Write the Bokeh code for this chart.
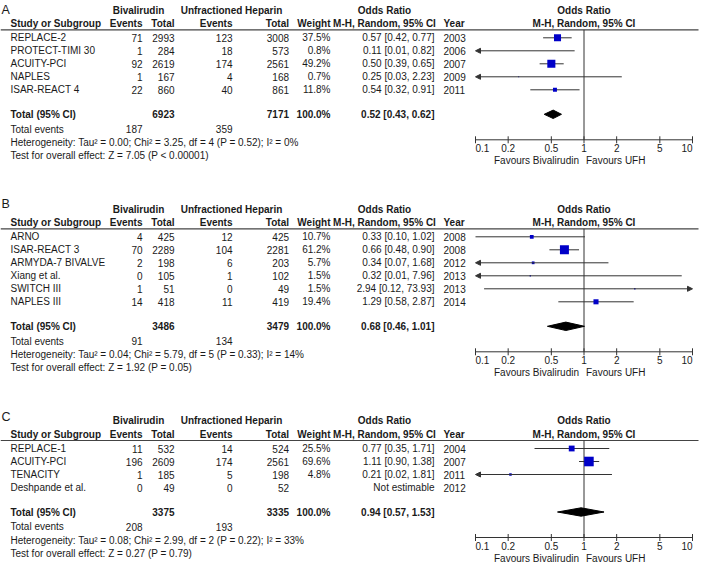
import math
from bokeh.plotting import figure
from bokeh.models import Range1d, LogScale, ColumnDataSource, Arrow, NormalHead
from bokeh.embed import file_html
from bokeh.resources import INLINE
from bokeh.core.properties import value

# ---------------- data ----------------
studies_A = ["REPLACE-2", "PROTECT-TIMI 30", "ACUITY-PCI", "NAPLES", "ISAR-REACT 4"]
biv_ev_A = [71, 1, 92, 1, 22]
biv_tot_A = [2993, 284, 2619, 167, 860]
ufh_ev_A = [123, 18, 174, 4, 40]
ufh_tot_A = [3008, 573, 2561, 168, 861]
weight_A = [37.5, 0.8, 49.2, 0.7, 11.8]
or_A = [0.57, 0.11, 0.50, 0.25, 0.54]
lo_A = [0.42, 0.01, 0.39, 0.03, 0.32]
hi_A = [0.77, 0.82, 0.65, 2.23, 0.91]
year_A = [2003, 2006, 2007, 2009, 2011]
totals_A = [6923, 7171]
events_A = [187, 359]
pooled_A = [0.52, 0.43, 0.62]
het_A = "Heterogeneity: Tau\u00b2 = 0.00; Chi\u00b2 = 3.25, df = 4 (P = 0.52); I\u00b2 = 0%"
test_A = "Test for overall effect: Z = 7.05 (P < 0.00001)"

studies_B = ["ARNO", "ISAR-REACT 3", "ARMYDA-7 BIVALVE", "Xiang et al.", "SWITCH III", "NAPLES III"]
biv_ev_B = [4, 70, 2, 0, 1, 14]
biv_tot_B = [425, 2289, 198, 105, 51, 418]
ufh_ev_B = [12, 104, 6, 1, 0, 11]
ufh_tot_B = [425, 2281, 203, 102, 49, 419]
weight_B = [10.7, 61.2, 5.7, 1.5, 1.5, 19.4]
or_B = [0.33, 0.66, 0.34, 0.32, 2.94, 1.29]
lo_B = [0.10, 0.48, 0.07, 0.01, 0.12, 0.58]
hi_B = [1.02, 0.90, 1.68, 7.96, 73.93, 2.87]
year_B = [2008, 2008, 2012, 2013, 2013, 2014]
totals_B = [3486, 3479]
events_B = [91, 134]
pooled_B = [0.68, 0.46, 1.01]
het_B = "Heterogeneity: Tau\u00b2 = 0.04; Chi\u00b2 = 5.79, df = 5 (P = 0.33); I\u00b2 = 14%"
test_B = "Test for overall effect: Z = 1.92 (P = 0.05)"

studies_C = ["REPLACE-1", "ACUITY-PCI", "TENACITY", "Deshpande et al."]
biv_ev_C = [11, 196, 1, 0]
biv_tot_C = [532, 2609, 185, 49]
ufh_ev_C = [14, 174, 5, 0]
ufh_tot_C = [524, 2561, 198, 52]
weight_C = [25.5, 69.6, 4.8, None]
or_C = [0.77, 1.11, 0.21, None]
lo_C = [0.35, 0.90, 0.02, None]
hi_C = [1.71, 1.38, 1.81, None]
year_C = [2004, 2007, 2011, 2012]
totals_C = [3375, 3335]
events_C = [208, 193]
pooled_C = [0.94, 0.57, 1.53]
het_C = "Heterogeneity: Tau\u00b2 = 0.08; Chi\u00b2 = 2.99, df = 2 (P = 0.22); I\u00b2 = 33%"
test_C = "Test for overall effect: Z = 0.27 (P = 0.79)"

tick_values = [0.1, 0.2, 0.5, 1, 2, 5, 10]
tick_labels = ["0.1", "0.2", "0.5", "1", "2", "5", "10"]
total_weight_label = "100.0%"

# ---------------- layout ----------------
REF_W, REF_H = 702, 562
W, H = 702, 562
X_LO, X_HI = 475.0, 692.0          # px of OR 0.1 and OR 10
DEC = (X_HI - X_LO) / 2.0
STEP = 13
FONT = value("Liberation Sans")
FS = "10px"
TXT = "#1a1a1a"
LINE = "#333333"
BLUE = "#0000C8"

p = figure(width=W, height=H, output_backend="svg", toolbar_location=None,
           x_range=Range1d(0, REF_W), y_range=Range1d(REF_H, 0),
           x_axis_location=None, y_axis_location=None, min_border=0,
           outline_line_color=None, background_fill_color="white",
           border_fill_color="white")
p.grid.visible = False
p.extra_x_ranges = {"or": Range1d(10 ** (-1 - X_LO / DEC), 10 ** (1 + (REF_W - X_HI) / DEC))}
p.extra_x_scales = {"or": LogScale()}


def txt(x, y, t, align="left", bold=False, size=FS, rng="default", x_offset=0):
    src = ColumnDataSource(dict(x=list(x), y=list(y), t=list(t)))
    p.text(x="x", y="y", text="t", source=src, text_align=align, text_baseline="middle",
           text_font=FONT, text_font_size=size,
           text_font_style="bold" if bold else "normal",
           text_color=TXT, x_range_name=rng, x_offset=x_offset)


panels = [
    dict(letter="A", letter_y=9.0, L=29.3, studies=studies_A, bev=biv_ev_A, btot=biv_tot_A,
         uev=ufh_ev_A, utot=ufh_tot_A, w=weight_A, o=or_A, lo=lo_A, hi=hi_A, yr=year_A,
         tot=totals_A, ev=events_A, pooled=pooled_A, het=het_A, test=test_A),
    dict(letter="B", letter_y=203.3, L=228.3, studies=studies_B, bev=biv_ev_B, btot=biv_tot_B,
         uev=ufh_ev_B, utot=ufh_tot_B, w=weight_B, o=or_B, lo=lo_B, hi=hi_B, yr=year_B,
         tot=totals_B, ev=events_B, pooled=pooled_B, het=het_B, test=test_B),
    dict(letter="C", letter_y=416.7, L=440.0, studies=studies_C, bev=biv_ev_C, btot=biv_tot_C,
         uev=ufh_ev_C, utot=ufh_tot_C, w=weight_C, o=or_C, lo=lo_C, hi=hi_C, yr=year_C,
         tot=totals_C, ev=events_C, pooled=pooled_C, het=het_C, test=test_C),
]

for P in panels:
    L = P["L"]
    n = len(P["studies"])
    ys = [L + 8 + STEP * i for i in range(n)]
    yt = ys[-1] + 24.5
    ya = yt + 25.5
    h1, h2 = L - 19.6, L - 6.5

    txt([1], [P["letter_y"]], [P["letter"]], size="12.5px")
    p.segment(x0=[0], x1=[698], y0=[L], y1=[L], line_color="#444444", line_width=1.2)

    # headers
    txt([138], [h1], ["Bivalirudin"], align="center", bold=True)
    txt([231], [h1], ["Unfractioned Heparin"], align="center", bold=True)
    txt([384], [h1], ["Odds Ratio"], align="center", bold=True)
    txt([1], [h1], ["Odds Ratio"], align="center", bold=True, rng="or")
    txt([10], [h2], ["Study or Subgroup"], bold=True)
    txt([142, 174, 232, 288.5, 330], [h2] * 5, ["Events", "Total", "Events", "Total", "Weight"],
        align="right", bold=True)
    txt([384], [h2], ["M-H, Random, 95% CI"], align="center", bold=True)
    txt([443], [h2], ["Year"], bold=True)
    txt([1], [h2], ["M-H, Random, 95% CI"], align="center", bold=True, rng="or")

    # study rows
    txt([10] * n, ys, P["studies"])
    txt([142] * n, ys, [str(v) for v in P["bev"]], align="right")
    txt([174] * n, ys, [str(v) for v in P["btot"]], align="right")
    txt([232] * n, ys, [str(v) for v in P["uev"]], align="right")
    txt([288.5] * n, ys, [str(v) for v in P["utot"]], align="right")
    txt([330] * n, ys, [f"{w:.1f}%" if w is not None else "" for w in P["w"]], align="right")
    ortxt = [f"{o:.2f} [{l:.2f}, {h:.2f}]" if o is not None else "Not estimable"
             for o, l, h in zip(P["o"], P["lo"], P["hi"])]
    txt([434] * n, ys, ortxt, align="right")
    txt([443] * n, ys, [str(v) for v in P["yr"]])

    # totals
    po, pl, ph = P["pooled"]
    txt([10], [yt], ["Total (95% CI)"], bold=True)
    txt([174, 288.5, 330], [yt] * 3, [str(P["tot"][0]), str(P["tot"][1]), total_weight_label],
        align="right", bold=True)
    txt([434], [yt], [f"{po:.2f} [{pl:.2f}, {ph:.2f}]"], align="right", bold=True)
    txt([10], [yt + 14.8], ["Total events"])
    txt([142, 232], [yt + 14.8] * 2, [str(P["ev"][0]), str(P["ev"][1])], align="right")
    txt([10], [yt + 28], [P["het"]])
    txt([10], [yt + 41], [P["test"]])

    # forest plot
    lo_min, hi_max = tick_values[0], tick_values[-1]
    sx0, sx1, sy = [], [], []
    ax0, ax1, ay = [], [], []
    qx, qy, qs = [], [], []
    for i in range(n):
        o = P["o"][i]
        if o is None:
            continue
        lo, hi = P["lo"][i], P["hi"][i]
        if lo < lo_min:
            ax0.append(min(hi, hi_max)); ax1.append(lo_min); ay.append(ys[i])
        elif hi > hi_max:
            ax0.append(max(lo, lo_min)); ax1.append(hi_max); ay.append(ys[i])
        else:
            sx0.append(lo); sx1.append(hi); sy.append(ys[i])
        qx.append(o); qy.append(ys[i]); qs.append(1.15 * math.sqrt(P["w"][i]))

    # vertical line of no effect
    p.segment(x0=[1], x1=[1], y0=[L], y1=[ya], line_color=LINE, line_width=1, x_range_name="or")
    if sx0:
        p.segment(x0=sx0, x1=sx1, y0=sy, y1=sy, line_color=LINE, line_width=1, x_range_name="or")
    if ax0:
        asrc = ColumnDataSource(dict(xs=ax0, xe=ax1, y=ay))
        p.add_layout(Arrow(x_start="xs", x_end="xe", y_start="y", y_end="y", source=asrc,
                           line_color=LINE, line_width=1, x_range_name="or",
                           end=NormalHead(size=5, fill_color=LINE, line_color=LINE, line_width=1)))
    p.scatter(x=qx, y=qy, size=qs, marker="square", fill_color=BLUE, line_color=None,
              x_range_name="or")
    p.patch(x=[pl, po, ph, po], y=[yt, yt - 4.2, yt, yt + 4.2], fill_color="black",
            line_color="black", line_width=1, x_range_name="or")

    # axis
    p.segment(x0=[lo_min], x1=[hi_max], y0=[ya], y1=[ya], line_color=LINE, line_width=1,
              x_range_name="or")
    nt = len(tick_values)
    p.segment(x0=tick_values, x1=tick_values, y0=[ya - 3.5] * nt, y1=[ya + 3.5] * nt,
              line_color=LINE, line_width=1, x_range_name="or")
    yl = ya + 8.5
    txt([tick_values[0]], [yl], [tick_labels[0]], align="left", rng="or")
    txt(tick_values[1:-1], [yl] * (nt - 2), tick_labels[1:-1], align="center", rng="or")
    txt([tick_values[-1]], [yl], [tick_labels[-1]], align="right", rng="or")
    txt([1], [ya + 20.5], ["Favours Bivalirudin"], align="right", rng="or", x_offset=-5)
    txt([1], [ya + 20.5], ["Favours UFH"], align="left", rng="or", x_offset=2)

open("out.html", "w").write(file_html(p, INLINE))
